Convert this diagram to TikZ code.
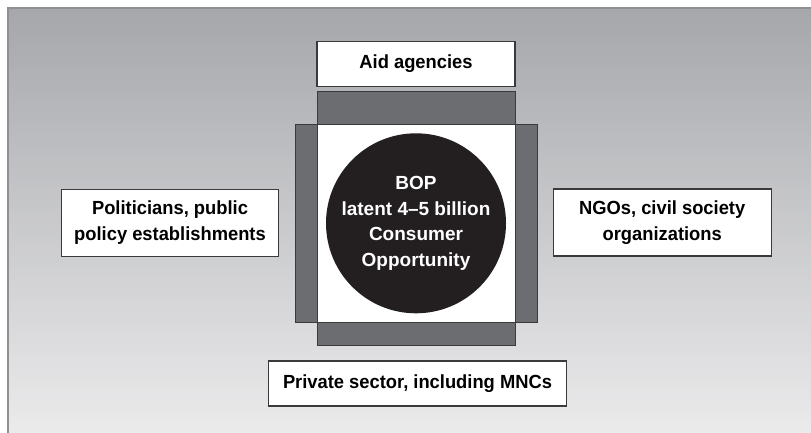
\documentclass[tikz,border=0pt]{standalone}
\usepackage{fontspec}
\newfontfamily\labfont{Liberation Sans}[FakeStretch=0.965,Ligatures=TeX]
\newfontfamily\circfont{Liberation Sans}[Ligatures=TeX]
\definecolor{bgtop}{HTML}{A6A7AB}
\definecolor{bgbot}{HTML}{EBEBEC}
\definecolor{panelline}{HTML}{909093}
\definecolor{darkbar}{HTML}{6C6D71}
\definecolor{boxline}{HTML}{3A3A3C}
\definecolor{circ}{HTML}{231F20}
\tikzset{
  lbox/.style={draw=boxline, line width=1.1pt, fill=white, inner sep=0pt, align=center,
    font=\labfont\bfseries\fontsize{19}{26}\selectfont, text=black},
  bar/.style={draw=boxline, line width=1pt, fill=darkbar, inner sep=0pt},
  sq/.style={draw=boxline, line width=1pt, fill=white, inner sep=0pt},
  bop/.style={circle, fill=circ, inner sep=0pt, minimum size=180pt, align=center,
    font=\circfont\bfseries\fontsize{19}{25.5}\selectfont, text=white}
}
\begin{document}
\begin{tikzpicture}[x=1pt,y=-1pt]
\useasboundingbox (0,0) rectangle (811,433);
\fill[white] (0,0) rectangle (811,433);
\shade[top color=bgtop, bottom color=bgbot] (8,8) rectangle (812,434);
\draw[panelline, line width=1.5pt] (8,434) -- (8,8) -- (812,8);
% bars behind the square
\node[bar, minimum width=198pt, minimum height=43pt] (topbar) at (416,113.5) {};
\node[bar, minimum width=198pt, minimum height=43pt] (botbar) at (416,323.5) {};
\node[bar, minimum width=242pt, minimum height=198pt] (sidebar) at (416,223.5) {};
\node[sq, minimum width=198pt, minimum height=197pt] (square) at (416,223.5) {};
\node[bop] (core) at (416,223.3) {BOP\\latent 4–5 billion\\Consumer\\Opportunity};
% outer boxes
\node[lbox, minimum width=198pt, minimum height=45.5pt] (aid) at (416,64) {Aid agencies};
\node[lbox, minimum width=217pt, minimum height=67pt] (pol) at (170,222.7) {Politicians, public\\policy establishments};
\node[lbox, minimum width=218pt, minimum height=67pt] (ngo) at (662.2,222.5) {NGOs, civil society\\organizations};
\node[lbox, minimum width=298pt, minimum height=45pt] (priv) at (417.5,383.5) {Private sector, including MNCs};
\end{tikzpicture}
\end{document}
